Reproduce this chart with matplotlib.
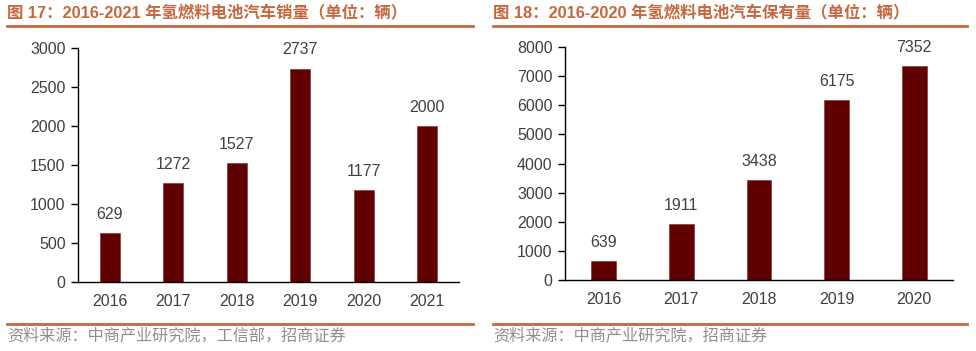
import matplotlib.pyplot as plt
from matplotlib.lines import Line2D

# DATA
years_sales = ["2016", "2017", "2018", "2019", "2020", "2021"]
sales = [629, 1272, 1527, 2737, 1177, 2000]

years_stock = ["2016", "2017", "2018", "2019", "2020"]
stock = [639, 1911, 3438, 6175, 7352]

title_left = "图 17：2016-2021 年氢燃料电池汽车销量（单位：辆）"
title_right = "图 18：2016-2020 年氢燃料电池汽车保有量（单位：辆）"
source_left = "资料来源：中商产业研究院，工信部，招商证券"
source_right = "资料来源：中商产业研究院，招商证券"

BAR = "#600000"
ACCENT = "#C5673F"
TXT = "#404040"
FONTS = ["Liberation Sans", "Noto Sans CJK SC", "DejaVu Sans"]
plt.rcParams["font.family"] = FONTS

fig = plt.figure(figsize=(9.76, 3.51), dpi=100)
W, H = 976, 351


def box(x0, y0, x1, y1):
    return [x0 / W, 1 - y1 / H, (x1 - x0) / W, (y1 - y0) / H]


def draw(ax, cats, vals, ymax, step):
    x = range(len(cats))
    ax.bar(x, vals, width=0.32, color=BAR, edgecolor="#7a2a2a", linewidth=0.4)
    for i, v in zip(x, vals):
        ax.annotate(str(v), (i, v), xytext=(0, 8), textcoords="offset points",
                    ha="center", va="bottom", fontsize=11.5, color=TXT)
    ax.set_xlim(-0.5, len(cats) - 0.5)
    ax.set_ylim(0, ymax)
    ax.set_yticks(range(0, ymax + 1, step))
    ax.set_xticks(list(x))
    ax.set_xticklabels(cats)
    ax.tick_params(axis="x", length=0, pad=9, labelsize=11.5, labelcolor=TXT)
    ax.tick_params(axis="y", length=5, width=1, direction="out", pad=4,
                   labelsize=11.5, labelcolor=TXT)
    for s in ["top", "right"]:
        ax.spines[s].set_visible(False)
    for s in ["left", "bottom"]:
        ax.spines[s].set_linewidth(1.0)
        ax.spines[s].set_color("#000000")


ax1 = fig.add_axes(box(78, 48, 459, 282))
draw(ax1, years_sales, sales, 3000, 500)

ax2 = fig.add_axes(box(565, 47, 953, 280))
draw(ax2, years_stock, stock, 8000, 1000)

# titles, rules and sources
for x0, x1, title, src in [(7, 473, title_left, source_left),
                           (493, 967, title_right, source_right)]:
    fig.text(x0 / W, 1 - 13 / H, title, fontsize=11.8, fontweight="bold",
             color=ACCENT, ha="left", va="center")
    fig.add_artist(Line2D([x0 / W, x1 / W], [1 - 26 / H] * 2, color=ACCENT, lw=2))
    fig.add_artist(Line2D([x0 / W, x1 / W], [1 - 324 / H] * 2, color=ACCENT, lw=2))
    fig.text(x0 / W, 1 - 336 / H, src, fontsize=11.6, color="#8f8f8f",
             ha="left", va="center", family=["Noto Sans CJK SC"],
             fontweight="light")

fig.savefig("out.png", dpi=100)
